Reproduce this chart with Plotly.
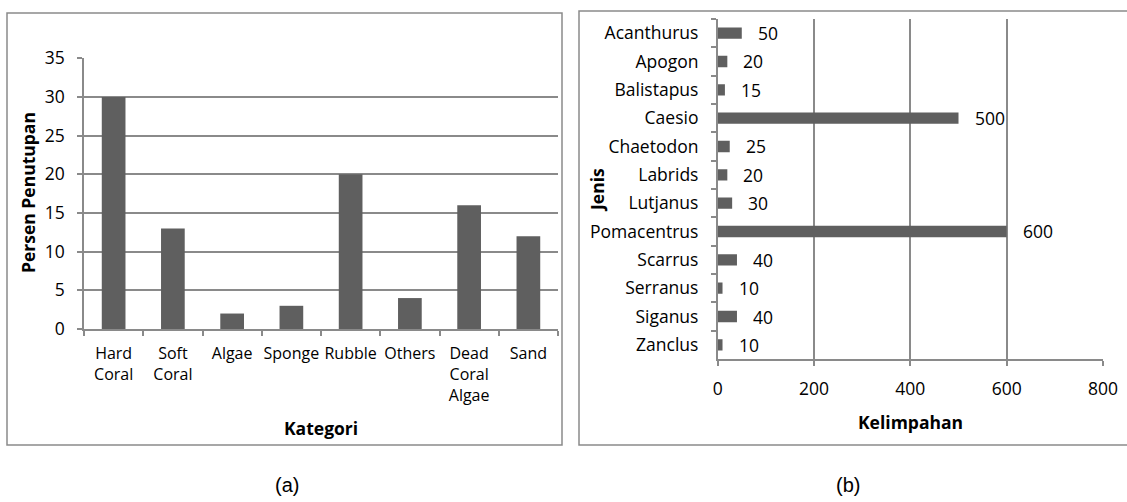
import plotly.graph_objects as go

# ---- data ----
kategori = ["Hard Coral", "Soft Coral", "Algae", "Sponge", "Rubble", "Others", "Dead Coral Algae", "Sand"]
persen = [30, 13, 2, 3, 20, 4, 16, 12]

jenis = ["Acanthurus", "Apogon", "Balistapus", "Caesio", "Chaetodon", "Labrids", "Lutjanus",
         "Pomacentrus", "Scarrus", "Serranus", "Siganus", "Zanclus"]
kelimpahan = [50, 20, 15, 500, 25, 20, 30, 600, 40, 10, 40, 10]

y_ticks_a = [0, 5, 10, 15, 20, 25, 30, 35]
x_ticks_b = [0, 200, 400, 600, 800]

W, H = 1127, 502
FONT = "Open Sans"
FS = 17.5
BAR = "#5f5f5f"
GRID = "#8a8a8a"
TXT = "#000000"


def px(x):
    return x / W


def py(y):
    return 1 - y / H


fig = go.Figure()

fig.add_trace(go.Bar(x=kategori, y=persen, width=0.4, marker=dict(color=BAR, line=dict(width=0)),
                     xaxis="x", yaxis="y", showlegend=False))
fig.add_trace(go.Bar(x=kelimpahan, y=jenis, orientation="h", width=0.4,
                     marker=dict(color=BAR, line=dict(width=0)),
                     xaxis="x2", yaxis="y2", showlegend=False))

annotations = []
for v, j in zip(kelimpahan, jenis):
    annotations.append(dict(x=v, y=j, xref="x2", yref="y2", text=str(v), showarrow=False,
                            xanchor="left", yanchor="middle", xshift=14,
                            font=dict(family=FONT, size=FS, color=TXT)))

tickfont = dict(family=FONT, size=FS, color=TXT)
tickfont_cat = dict(family=FONT, size=16, color=TXT)
titlefont = dict(family=FONT, size=FS, color=TXT, weight="bold")

annotations += [
    dict(x=px(28), y=py(193), xref="paper", yref="paper", text="<b>Persen Penutupan</b>", textangle=-90,
         showarrow=False, font=titlefont, xanchor="center", yanchor="middle"),
    dict(x=px(321), y=py(428), xref="paper", yref="paper", text="<b>Kategori</b>",
         showarrow=False, font=titlefont, xanchor="center", yanchor="middle"),
    dict(x=px(597), y=py(190), xref="paper", yref="paper", text="<b>Jenis</b>", textangle=-90,
         showarrow=False, font=titlefont, xanchor="center", yanchor="middle"),
    dict(x=px(910), y=py(422), xref="paper", yref="paper", text="<b>Kelimpahan</b>",
         showarrow=False, font=titlefont, xanchor="center", yanchor="middle"),
    dict(x=px(287), y=py(485), xref="paper", yref="paper", text="(a)",
         showarrow=False, font=dict(family="Liberation Sans", size=20, color=TXT), xanchor="center", yanchor="middle"),
    dict(x=px(848), y=py(485), xref="paper", yref="paper", text="(b)",
         showarrow=False, font=dict(family="Liberation Sans", size=20, color=TXT), xanchor="center", yanchor="middle"),
]

shapes = [
    dict(type="rect", xref="paper", yref="paper", x0=px(7), x1=px(562), y0=py(445), y1=py(13),
         line=dict(color=GRID, width=1.5), fillcolor="rgba(0,0,0,0)", layer="below"),
    dict(type="rect", xref="paper", yref="paper", x0=px(579), x1=px(1135), y0=py(445), y1=py(11),
         line=dict(color=GRID, width=1.5), fillcolor="rgba(0,0,0,0)", layer="below"),
]

fig.update_layout(
    width=W, height=H,
    margin=dict(l=0, r=0, t=0, b=0),
    paper_bgcolor="white", plot_bgcolor="white",
    font=dict(family=FONT, size=FS, color=TXT),
    xaxis=dict(domain=[px(84), px(558)], range=[-0.5, 7.5], type="category",
               tickmode="array", tickvals=kategori,
               ticktext=[k.replace(" ", "<br>") for k in kategori],
               tickangle=0,
               tickson="boundaries", ticks="outside", ticklen=5, tickcolor=GRID, tickwidth=1.5,
               showline=True, linecolor=GRID, linewidth=1.5, showgrid=False, zeroline=False,
               tickfont=tickfont_cat, ticklabelstandoff=9, automargin=False, fixedrange=True),
    yaxis=dict(domain=[py(329), py(58.3)], range=[0, 35], tickvals=y_ticks_a,
               ticks="outside", ticklen=5, tickcolor=GRID, tickwidth=1.5,
               showline=True, linecolor=GRID, linewidth=1.5,
               showgrid=True, gridcolor=GRID, gridwidth=1.5, zeroline=False,
               tickfont=tickfont, ticklabelstandoff=9, automargin=False, fixedrange=True),
    xaxis2=dict(domain=[px(717.7), px(1103)], range=[0, 800], tickvals=x_ticks_b, anchor="y2",
                tickangle=0,
                ticks="outside", ticklen=5, tickcolor=GRID, tickwidth=1.5,
                showline=True, linecolor=GRID, linewidth=1.5,
                showgrid=True, gridcolor=GRID, gridwidth=1.5, zeroline=False,
                tickfont=tickfont, ticklabelstandoff=8, automargin=False, fixedrange=True),
    yaxis2=dict(domain=[py(359), py(19)], type="category", anchor="x2",
                categoryorder="array", categoryarray=jenis, range=[len(jenis) - 0.5, -0.5],
                tickson="boundaries", ticks="outside", ticklen=5, tickcolor=GRID, tickwidth=1.5,
                showline=True, linecolor=GRID, linewidth=1.5, showgrid=False, zeroline=False,
                tickfont=tickfont, ticklabelstandoff=14, automargin=False, fixedrange=True),
    annotations=annotations,
    shapes=shapes,
)

fig.write_html("out.html", config={"displayModeBar": False},
               post_script="document.body.style.margin='0';document.body.style.overflow='hidden';")
